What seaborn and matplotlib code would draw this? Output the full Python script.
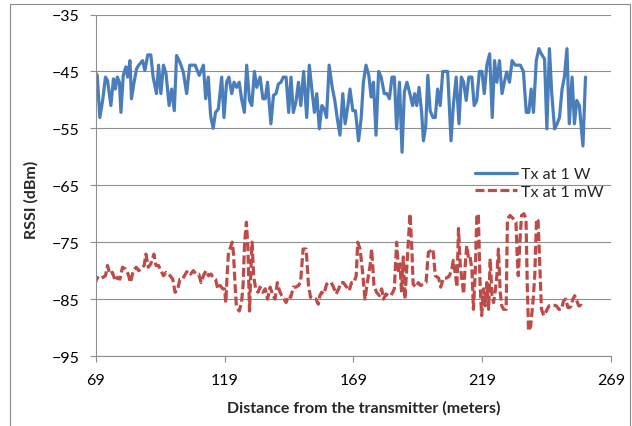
import matplotlib
matplotlib.use("Agg")
import matplotlib.pyplot as plt
import seaborn as sns
from matplotlib.patches import Rectangle

# distance from transmitter (m) and RSSI (dBm)
dist_1w = [
    68.7, 69.6, 70.6, 71.7, 72.8, 73.6, 74.9, 75.9, 76.6, 77.4, 78.2, 78.8, 79.7, 80.7,
    81.4, 82.3, 82.9, 83.9, 84.9, 85.7, 87.2, 88.1, 89.2, 90.4, 91.3, 92.6, 93.4, 94.3,
    95.3, 96.3, 97.5, 98.5, 99.5, 100.4, 101.7, 103.0, 104.3, 105.5, 107.6, 109.2, 110.8,
    111.7, 112.7, 113.6, 114.6, 115.5, 116.6, 117.9, 118.8, 119.8, 120.7, 121.8, 122.7,
    123.7, 124.7, 125.6, 126.7, 127.6, 128.7, 129.6, 130.6, 131.5, 132.8, 133.9, 134.8,
    135.7, 137.0, 138.0, 139.0, 139.9, 140.9, 141.8, 142.9, 143.9, 144.8, 145.7, 146.7,
    147.7, 148.6, 149.7, 150.9, 151.9, 153.0, 153.9, 154.8, 155.8, 156.8, 157.7, 158.6,
    159.6, 160.8, 161.8, 162.8, 163.8, 164.9, 165.8, 166.8, 167.7, 168.8, 169.8, 171.0,
    172.0, 172.9, 173.9, 175.0, 175.9, 176.8, 177.8, 178.8, 179.8, 181.0, 182.0, 183.0,
    184.0, 184.9, 185.8, 186.9, 187.9, 188.8, 189.8, 191.1, 192.0, 192.8, 193.6, 194.5,
    195.5, 196.2, 197.1, 197.9, 198.8, 199.9, 200.8, 201.7, 202.7, 203.7, 205.6, 206.9,
    207.8, 208.9, 210.0, 210.9, 211.8, 212.8, 213.8, 215.0, 215.9, 216.9, 217.9, 218.9,
    219.8, 220.8, 221.9, 222.9, 223.8, 224.7, 225.7, 226.7, 227.6, 228.5, 229.6, 230.6,
    231.8, 233.8, 235.0, 236.1, 237.1, 238.0, 238.9, 240.0, 241.0, 241.9, 243.2, 244.1,
    245.1, 246.0, 247.1, 248.1, 249.0, 250.0, 250.9, 251.9, 252.8, 253.9, 254.8, 255.7,
    256.7, 258.1, 259.1,
]
rssi_1w = [
    -45.0, -45.7, -53.1, -50.1, -46.0, -46.6, -51.0, -46.3, -48.1, -46.0, -46.9, -52.2, -45.7, -44.2,
    -46.0, -43.1, -49.8, -46.9, -44.5, -43.9, -43.1, -44.8, -42.1, -42.1, -46.0, -48.9, -43.9, -48.9,
    -43.9, -45.4, -51.0, -48.1, -51.9, -42.2, -43.4, -45.1, -48.9, -43.9, -43.9, -45.7, -43.9,
    -49.8, -46.0, -52.8, -55.0, -52.2, -51.6, -46.0, -53.1, -46.9, -46.0, -48.9, -46.9,
    -47.8, -46.9, -49.8, -52.2, -43.9, -50.1, -51.0, -45.0, -47.8, -46.0, -49.8, -49.8,
    -46.9, -54.2, -49.2, -48.9, -47.2, -46.9, -46.0, -46.0, -52.2, -46.0, -52.2, -50.4,
    -46.9, -51.0, -45.0, -53.1, -43.9, -48.6, -52.2, -48.9, -55.1, -51.0, -51.6, -53.1,
    -43.9, -47.8, -50.1, -53.4, -56.2, -48.9, -54.2, -51.3, -48.1, -51.9, -51.9, -57.2,
    -53.4, -46.9, -43.9, -45.7, -49.5, -46.9, -56.2, -45.0, -46.0, -48.9, -48.9, -49.8,
    -46.0, -46.0, -55.1, -46.9, -59.2, -48.6, -46.9, -49.2, -51.0, -48.9, -51.0, -47.8,
    -52.2, -57.2, -54.5, -45.7, -51.9, -53.1, -53.1, -48.1, -51.0, -45.0, -45.0, -57.2,
    -51.0, -46.0, -54.2, -46.0, -46.9, -50.1, -46.0, -46.0, -51.0, -50.1, -45.0, -45.0,
    -48.9, -43.9, -41.9, -53.1, -43.1, -46.9, -43.1, -48.9, -46.9, -45.1, -46.9, -43.1,
    -43.9, -43.9, -45.0, -52.2, -52.2, -48.1, -52.2, -43.1, -41.0, -41.9, -42.8, -55.1,
    -41.0, -48.9, -55.1, -54.2, -53.1, -48.1, -46.0, -41.0, -54.2, -46.0, -54.2, -50.1,
    -51.0, -58.1, -46.0,
]

dist_1mw = [
    68.7, 69.6, 70.6, 71.7, 72.8, 73.6, 74.5, 75.5, 76.6, 77.4, 78.4, 79.4, 80.5, 81.6,
    82.5, 83.6, 84.7, 85.7, 86.6, 87.8, 88.5, 89.4, 90.4, 91.6, 92.4, 93.4, 94.3, 95.3,
    96.3, 97.2, 97.9, 98.9, 99.8, 100.7, 101.7, 102.7, 103.8, 104.7, 105.9, 106.9, 107.9,
    109.0, 109.9, 110.8, 111.8, 112.8, 113.7, 114.6, 115.5, 116.4, 117.3, 118.3, 119.0,
    119.5, 120.0, 120.5, 121.3, 122.0, 122.5, 123.1, 123.6, 124.7, 125.6, 126.2, 126.8,
    127.5, 128.1, 128.7, 129.2, 129.7, 130.3, 131.1, 132.0, 132.8, 133.9, 134.8, 135.7,
    136.7, 137.6, 138.6, 139.5, 140.3, 141.2, 142.1, 142.9, 143.8, 144.7, 145.7, 146.7,
    147.7, 148.5, 149.5, 150.7, 151.6, 152.4, 153.5, 154.5, 155.4, 156.0, 156.7, 157.6,
    158.6, 159.4, 160.4, 161.3, 162.3, 163.3, 164.2, 165.1, 166.4, 167.4, 168.3, 169.2,
    170.1, 170.7, 171.6, 172.6, 173.5, 174.4, 175.5, 176.1, 177.0, 178.0, 179.1, 180.0,
    180.7, 181.7, 182.5, 183.5, 184.3, 184.9, 185.8, 186.6, 187.1, 187.7, 188.4, 189.0,
    189.7, 190.3, 191.0, 191.7, 192.2, 193.3, 194.2, 195.1, 196.2, 197.2, 198.1, 199.9,
    200.8, 202.1, 202.9, 204.0, 205.3, 206.3, 207.2, 207.8, 208.5, 209.2, 209.8, 210.5,
    211.1, 211.8, 212.4, 213.0, 213.7, 214.3, 215.0, 215.6, 216.3, 216.9, 217.5, 218.2,
    218.8, 219.5, 220.1, 220.8, 221.5, 222.1, 222.8, 223.4, 224.0, 224.7, 225.3, 226.0,
    226.6, 227.3, 228.3, 228.8, 229.8, 231.1, 232.1, 232.6, 233.0, 233.7, 234.3, 235.2,
    236.0, 236.5, 237.0, 237.8, 238.8, 239.4, 240.1, 240.7, 241.4, 242.0, 242.9, 243.9,
    244.9, 245.8, 247.1, 247.8, 248.8, 249.7, 250.6, 251.4, 252.3, 252.9, 253.5, 254.2,
    254.9, 255.7, 256.5, 257.4, 258.3,
]
rssi_1mw = [
    -82.4, -81.2, -81.5, -81.2, -80.9, -79.1, -80.6, -80.3, -81.8, -81.2, -81.5, -79.4, -79.7, -80.6,
    -82.1, -80.0, -79.4, -80.0, -79.7, -79.1, -77.1, -79.4, -78.8, -77.1, -79.1, -79.1, -80.0, -80.9,
    -80.3, -80.6, -80.9, -81.5, -83.8, -83.5, -81.5, -81.5, -80.6, -80.0, -80.6, -80.0, -80.6,
    -80.6, -82.1, -80.9, -80.0, -80.9, -80.6, -81.2, -81.5, -83.2, -82.6, -83.2, -83.2,
    -85.6, -80.9, -77.1, -75.9, -75.0, -77.1, -82.6, -86.2, -87.1, -85.6, -82.6, -75.0,
    -71.5, -76.2, -87.1, -80.3, -75.0, -80.9, -83.2, -83.8, -82.9, -83.8, -83.2, -85.0,
    -82.9, -84.1, -85.0, -82.1, -83.5, -84.4, -85.0, -85.6, -84.4, -84.7, -82.9, -82.9,
    -82.6, -82.1, -76.2, -76.2, -82.6, -84.7, -85.0, -85.0, -85.9, -84.4, -83.8, -84.1,
    -82.4, -82.1, -82.1, -82.9, -84.1, -83.2, -82.1, -82.1, -82.9, -83.5, -82.1, -82.1,
    -80.9, -75.0, -76.2, -80.3, -85.0, -82.1, -79.1, -76.2, -82.6, -83.8, -84.4, -83.2,
    -85.0, -84.1, -84.4, -84.4, -83.8, -83.2, -75.0, -80.3, -78.8, -83.8, -77.6, -85.0,
    -79.7, -75.3, -70.0, -76.2, -82.4, -82.9, -82.1, -82.6, -82.4, -82.1, -76.8, -76.2,
    -80.9, -81.3, -82.9, -81.3, -81.3, -80.9, -79.7, -78.2, -80.3, -82.9, -72.6, -79.1,
    -81.5, -84.1, -79.1, -75.6, -77.9, -77.6, -79.7, -86.8, -80.3, -70.6, -70.0, -82.6,
    -87.9, -83.2, -86.2, -82.1, -86.8, -77.9, -84.4, -85.6, -83.8, -80.9, -76.2, -83.8,
    -86.2, -86.8, -86.8, -70.9, -70.3, -70.9, -71.5, -77.6, -80.9, -74.4, -70.3, -70.0,
    -70.9, -82.6, -90.6, -89.8, -85.0, -80.9, -70.9, -71.2, -79.7, -86.8, -87.9, -87.1,
    -86.2, -86.1, -86.1, -86.2, -86.8, -86.8, -85.3, -85.0, -86.5, -86.5, -86.2, -85.0,
    -84.4, -85.3, -86.2, -86.1, -86.5,
]

x_ticks = [69, 119, 169, 219, 269]
y_ticks = [-95, -85, -75, -65, -55, -45, -35]

BLUE = "#4a7ebb"
RED = "#be4b48"
GRID = "#8f8f8f"

sns.set_theme(style="white")
plt.rcParams["font.family"] = ["Lato", "DejaVu Sans"]

fig = plt.figure(figsize=(6.32, 4.27), dpi=100)
ax = fig.add_axes([0.1514, 0.1639, 0.8154, 0.7998])

sns.lineplot(x=dist_1w, y=rssi_1w, ax=ax, color=BLUE, lw=2.3,
             estimator=None, sort=False, label="Tx at 1 W")
sns.lineplot(x=dist_1mw, y=rssi_1mw, ax=ax, color=RED, lw=2.3,
             estimator=None, sort=False, linestyle=(0, (2.8, 1.1)),
             label="Tx at 1 mW")

ax.set_xlim(69, 269)
ax.set_ylim(-95, -35)
ax.set_xticks(x_ticks)
ax.set_yticks(y_ticks)
ax.yaxis.grid(True, color=GRID, lw=0.8)
ax.xaxis.grid(False)
ax.set_axisbelow(True)

for side in ["top", "right"]:
    ax.spines[side].set_visible(False)
for side in ["left", "bottom"]:
    ax.spines[side].set_color(GRID)
    ax.spines[side].set_linewidth(0.8)

ax.tick_params(axis="both", which="major", bottom=True, left=True,
               direction="out", length=4.5, width=0.8, color=GRID,
               labelsize=11.5, labelcolor="black")
ax.tick_params(axis="y", pad=7)
ax.tick_params(axis="x", pad=7.5)
ax.set_xlabel("")
ax.set_ylabel("")

leg = ax.legend(loc="center left", bbox_to_anchor=(475 / 632, 1 - 184 / 427),
                bbox_transform=fig.transFigure, frameon=False, fontsize=11.5,
                handlelength=2.6, handletextpad=0.3, labelspacing=0.2,
                borderpad=0, borderaxespad=0)

fig.text(31 / 632, 1 - 200 / 427, "RSSI (dBm)", rotation=90, ha="center",
         va="center", fontsize=11.5, fontweight="bold")
fig.text(364 / 632, 1 - 408 / 427, "Distance from the transmitter (meters)",
         ha="center", va="center", fontsize=11.5, fontweight="bold")

# outer chart-area border
fig.add_artist(Rectangle((10 / 632, -0.05), 620 / 632, (427 - 5) / 427 + 0.05,
                         transform=fig.transFigure, fill=False,
                         ec="#8a8a8a", lw=0.8))

fig.savefig("out.png", dpi=100)
